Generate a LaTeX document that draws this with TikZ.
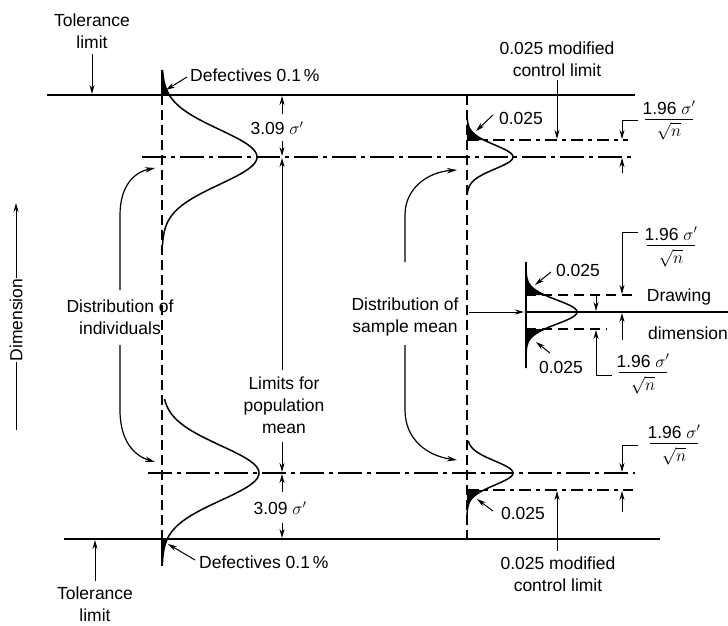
\documentclass[tikz,border=0pt]{standalone}
\usepackage{fontspec}
\setmainfont{Liberation Sans}
\usetikzlibrary{arrows.meta}
\begin{document}
\begin{tikzpicture}[x=1pt,y=-1pt,
  lbl/.style={font=\fontsize{17.5}{22}\selectfont, inner sep=0pt, align=center},
  fnum/.style={lbl, anchor=base},
  tolline/.style={line width=1.8pt},
  dashv/.style={line width=1.3pt, dash pattern=on 10pt off 5pt},
  dashdot/.style={line width=1.5pt, dash pattern=on 24pt off 5pt on 4pt off 5pt},
  dashh/.style={line width=1.2pt, dash pattern=on 12pt off 5pt on 4pt off 5pt},
  bell/.style={line width=1.5pt},
  arr/.style={line width=1pt, -{Stealth[length=9pt,width=5pt]}},
  lead/.style={line width=1pt},
  fbar/.style={line width=0.9pt},
  curvarr/.style={line width=1.2pt, -{Stealth[length=10pt,width=5.5pt]}}
]
\useasboundingbox (0,0) rectangle (728,626);

% ---------------- tolerance lines
\draw[tolline] (47,95) -- (635,95);
\draw[tolline] (64,539) -- (660,539);

% ---------------- vertical dashed axes
\draw[dashv] (162,95) -- (162,539);
\draw[dashv] (467,95) -- (467,539);

% ---------------- mean lines (dash-dot)
\draw[dashdot] (142,157) -- (633,157);
\draw[dashdot] (148,473) -- (635,473);

% ---------------- modified control limits
\draw[dashh] (467,140) -- (628,140);
\draw[dashh] (467,490) -- (633,490);

% ---------------- left bells (individuals)
\fill (162,70) -- plot[domain=-87:-62, samples=20] ({162+95*exp(-(\x*\x)/1500)},{157+\x}) -- (162,95) -- cycle;
\draw[line width=1.6pt] (162,70) -- (162,95);
\draw[bell] plot[domain=-87:88, samples=120] ({162+95*exp(-(\x*\x)/1500)},{157+\x});

\fill (162,565) -- plot[domain=92:66, samples=20] ({162+97*exp(-(\x*\x)/1500)},{473+\x}) -- (162,539) -- cycle;
\draw[line width=1.6pt] (162,539) -- (162,566);
\draw[bell] plot[domain=-74:92, samples=120] ({162+97*exp(-(\x*\x)/1500)},{473+\x});

% ---------------- right bells (sample mean)
\fill (467,115) -- plot[domain=-42:-17, samples=20] ({467+46*exp(-(\x*\x)/288)},{157+\x}) -- (467,140) -- cycle;
\draw[bell] plot[domain=-42:36, samples=80] ({467+46*exp(-(\x*\x)/288)},{157+\x});

\fill (467,515) -- plot[domain=42:17, samples=20] ({467+46*exp(-(\x*\x)/288)},{473+\x}) -- (467,490) -- cycle;
\draw[bell] plot[domain=-32:42, samples=80] ({467+46*exp(-(\x*\x)/288)},{473+\x});

% ---------------- middle bell (drawing dimension)
\draw[line width=1.3pt] (526,262) -- (526,368);
\fill (526,262) -- plot[domain=-50:-17, samples=20] ({526+51*exp(-(\x*\x)/288)},{312+\x}) -- (526,295) -- cycle;
\fill (526,368) -- plot[domain=56:17, samples=20] ({526+51*exp(-(\x*\x)/288)},{312+\x}) -- (526,329) -- cycle;
\draw[bell] plot[domain=-50:56, samples=100] ({526+51*exp(-(\x*\x)/288)},{312+\x});
\draw[line width=1.5pt] (526,312) -- (728,312);
\draw[line width=1.1pt, dash pattern=on 10pt off 6pt] (526,295) -- (637,295);
\draw[line width=1.1pt, dash pattern=on 10pt off 6pt] (526,329) -- (607,329);

% ---------------- texts
\node[lbl] (tolT) at (92,31) {Tolerance\\limit};
\node[lbl] (tolB) at (95,604) {Tolerance\\limit};
\node[lbl, anchor=west] (defT) at (190,75) {Defectives 0.1\,\%};
\node[lbl, anchor=west] (defB) at (199,562) {Defectives 0.1\,\%};
\node[lbl] (sigT) at (277,128) {3.09 $\sigma'$};
\node[lbl] (sigB) at (280,508) {3.09 $\sigma'$};
\node[lbl] (lim) at (284,405) {Limits for\\population\\mean};
\node[lbl] (indiv) at (120,317) {Distribution of\\individuals};
\node[lbl] (samp) at (405,317) {Distribution of\\sample mean};
\node[lbl] (mclT) at (557,59) {0.025 modified\\control limit};
\node[lbl] (mclB) at (558,574) {0.025 modified\\control limit};
\node[lbl] (draw1) at (679,297) {Drawing};
\node[lbl] (draw2) at (688,333) {dimension};
\node[lbl] (pT) at (521,118) {0.025};
\node[lbl] (pM1) at (578,270) {0.025};
\node[lbl] (pM2) at (561,367) {0.025};
\node[lbl] (pB) at (523,513) {0.025};
\node[lbl, rotate=90] (dim) at (16,320) {Dimension};

% ---------------- fractions 1.96 sigma' / sqrt n
\node[fnum] (fr1n) at (669,114) {1.96 $\sigma'$};
\draw[fbar] (645,119) -- (693,119);
\node[fnum] (fr1d) at (669,136) {$\sqrt{n}$};
\node[fnum] (fr2n) at (671,240) {1.96 $\sigma'$};
\draw[fbar] (647,245) -- (695,245);
\node[fnum] (fr2d) at (671,263) {$\sqrt{n}$};
\node[fnum] (fr3n) at (643,367) {1.96 $\sigma'$};
\draw[fbar] (619,372) -- (667,372);
\node[fnum] (fr3d) at (643,390) {$\sqrt{n}$};
\node[fnum] (fr4n) at (674,438) {1.96 $\sigma'$};
\draw[fbar] (650,443) -- (698,443);
\node[fnum] (fr4d) at (674,461) {$\sqrt{n}$};

% ---------------- label arrows
\draw[arr] (92,54) -- (92,94);
\draw[arr] (95,581) -- (95,540);
\draw[arr] (187,77) -- (166,90);
\draw[arr] (195,560) -- (168,544);
\draw[arr] (493,115) -- (476,131);
\draw[arr] (551,272) -- (535,285);
\draw[arr] (550,353) -- (536,342);
\draw[arr] (493,511) -- (477,499);
\draw[arr] (557,80) -- (557,139);
\draw[arr] (557,551) -- (557,491);

% dimension arrows at the population-mean column
\draw[arr] (282,114) -- (282,96);
\draw[arr] (282,141) -- (282,156);
\draw[arr] (282,370) -- (282,158);
\draw[arr] (282,442) -- (282,472);
\draw[arr] (282,492) -- (282,474);
\draw[arr] (282,523) -- (282,538);

% 1.96 sigma'/sqrt n dimensions
\draw[lead] (638,120) -- (622,120);
\draw[arr] (622,120) -- (622,139);
\draw[arr] (622,173) -- (622,158);
\draw[lead] (638,232) -- (622,232);
\draw[arr] (622,232) -- (622,294);
\draw[arr] (622,340) -- (622,313);
\draw[arr] (596,294) -- (596,311);
\draw[lead] (612,375) -- (596,375);
\draw[arr] (596,375) -- (596,330);
\draw[lead] (638,445) -- (622,445);
\draw[arr] (622,445) -- (622,472);
\draw[arr] (622,512) -- (622,491);

% distribution arrows
\draw[arr] (469,312) -- (524,312);
\draw[curvarr] (120,290) -- (120,215) .. controls (120,185) and (135,172) .. (155,168);
\draw[curvarr] (120,345) -- (120,410) .. controls (120,442) and (135,456) .. (155,462);
\draw[curvarr] (405,262) -- (405,215) .. controls (405,188) and (428,172) .. (457,170);
\draw[curvarr] (405,345) -- (405,410) .. controls (405,440) and (428,456) .. (457,460);

% dimension axis
\draw[line width=1pt] (16,430) -- (dim.west);
\draw[arr] (dim.east) -- (16,203);
\end{tikzpicture}
\end{document}
